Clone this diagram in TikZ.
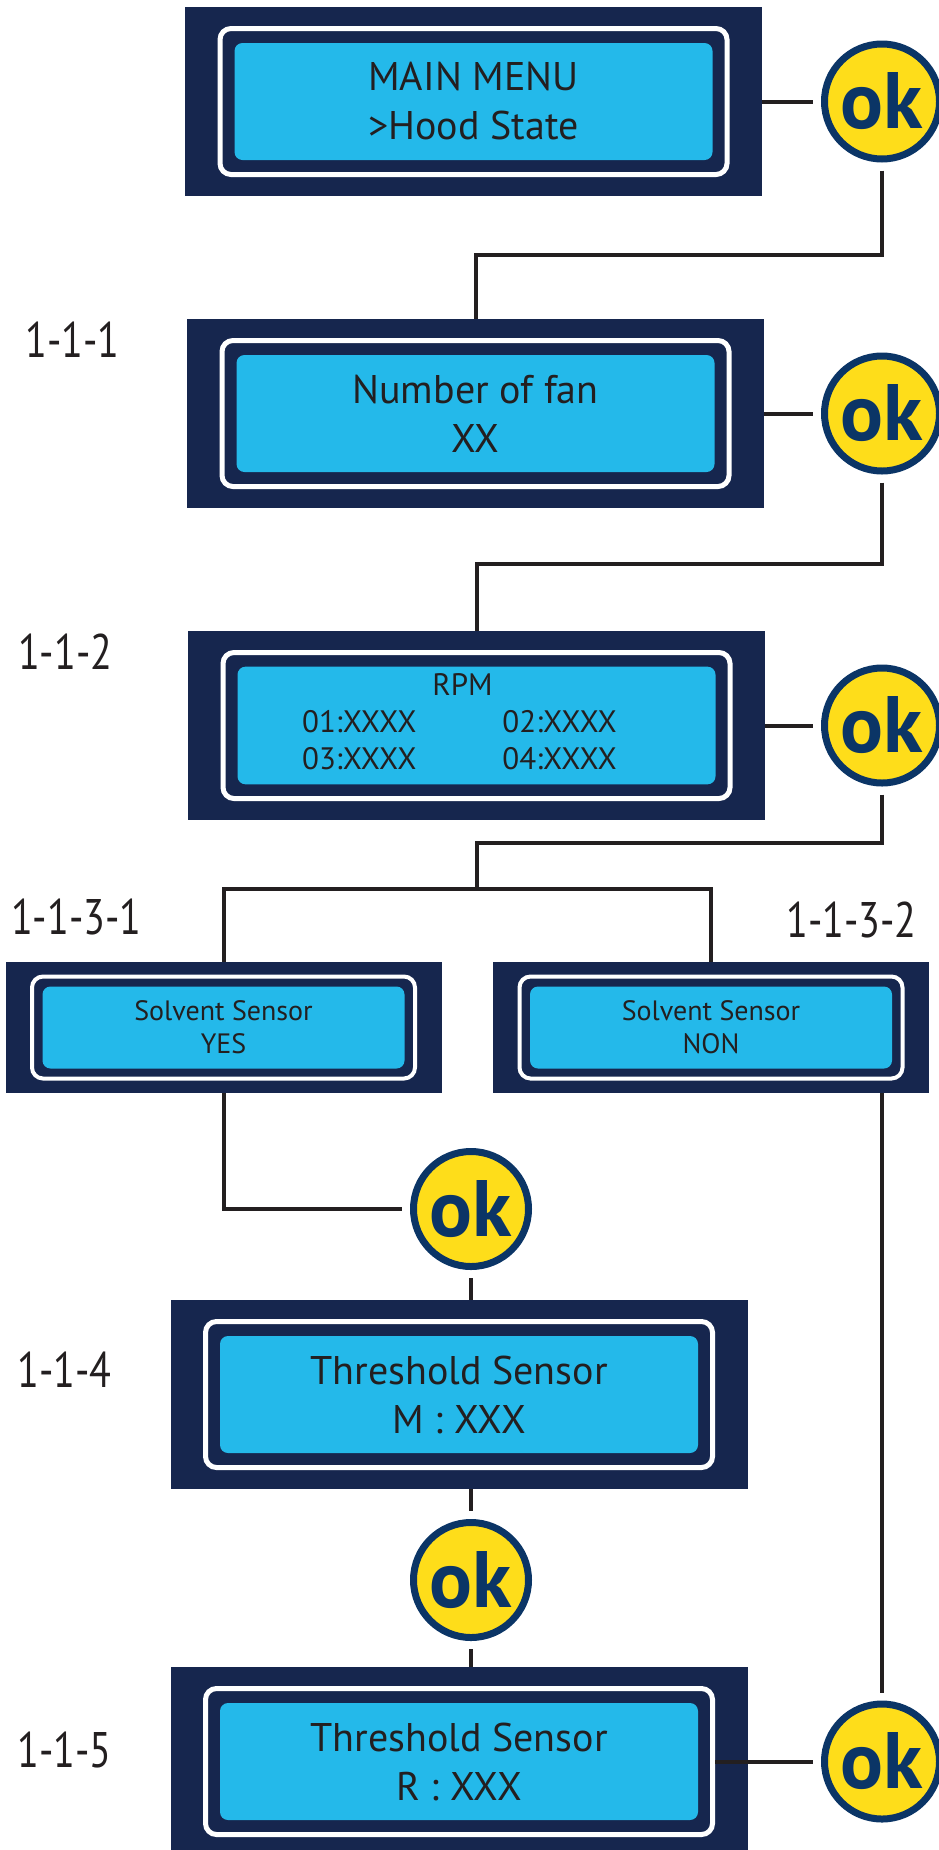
\documentclass[tikz,border=0pt]{standalone}
\usepackage{fontspec}
\usepackage{graphicx}
\setmainfont{PT Sans}
\definecolor{screenblue}{HTML}{16264E}
\definecolor{lcdcyan}{HTML}{24B9EA}
\definecolor{okyellow}{HTML}{FEDD1A}
\definecolor{oknavy}{HTML}{0B3566}
\definecolor{linegray}{HTML}{231F20}
\newcommand\levelname[1]{\scalebox{0.8}[1]{#1}}

\begin{document}
\begin{tikzpicture}[x=1pt,y=-1pt,
  screen/.style={fill=screenblue,inner sep=0,minimum width=577pt,minimum height=189pt},
  frame/.style={draw=white,line width=5pt,rounded corners=11pt,inner sep=0,minimum width=507pt,minimum height=146pt},
  panel/.style={fill=lcdcyan,rounded corners=8pt,minimum width=478pt,minimum height=117pt,align=center,text=linegray,font=\fontsize{40}{49}\selectfont},
  smallscreen/.style={screen,minimum width=436pt,minimum height=131pt},
  smallframe/.style={frame,line width=4pt,minimum width=383pt,minimum height=102pt},
  smallpanel/.style={panel,minimum width=362pt,minimum height=82pt,font=\fontsize{28}{33}\selectfont},
  okbtn/.style={circle,fill=okyellow,draw=oknavy,line width=7pt,minimum size=115pt,inner sep=0,outer sep=11.5pt,text=oknavy,font=\fontsize{80}{80}\bfseries},
  link/.style={draw=linegray,line width=4pt},
  level/.style={anchor=west,inner sep=0,text=linegray,font=\fontsize{50}{60}\selectfont}]
 \useasboundingbox (0,0) rectangle (938,1850);
 % screens
 \node[screen] (s1) at (473.5,101.5) {};
 \node[frame] (f1) at (s1) {};
 \node[panel] (p1) at (s1) {MAIN MENU\\>Hood State};
 \node[screen] (s2) at (475.5,413.5) {};
 \node[frame] (f2) at (s2) {};
 \node[panel] (p2) at (s2) {Number of fan\\XX};
 \node[screen] (s3) at (476.5,725.5) {};
 \node[frame] (f3) at (s3) {};
 \node[panel,font=\fontsize{31}{37}\selectfont] (p3) at (s3) {\begin{tabular}{@{}c@{\hspace{86pt}}c@{\hspace{34pt}}}\multicolumn{2}{c@{\hspace{34pt}}}{RPM}\\01:XXXX&02:XXXX\\03:XXXX&04:XXXX\end{tabular}};
 \node[smallscreen] (s31) at (223.5,1027.5) {};
 \node[smallframe] (f31) at (s31) {};
 \node[smallpanel] (p31) at (s31) {Solvent Sensor\\YES};
 \node[smallscreen] (s32) at (711,1027.5) {};
 \node[smallframe] (f32) at (s32) {};
 \node[smallpanel] (p32) at (s32) {Solvent Sensor\\NON};
 \node[screen] (s4) at (459,1394.5) {};
 \node[frame] (f4) at (s4) {};
 \node[panel] (p4) at (s4) {Threshold Sensor\\M : XXX};
 \node[screen] (s5) at (459,1761.5) {};
 \node[frame] (f5) at (s5) {};
 \node[panel] (p5) at (s5) {Threshold Sensor\\R : XXX};
 % ok buttons
 \node[okbtn] (ok1) at (882,101.5) {ok};
 \node[okbtn] (ok2) at (882,413.5) {ok};
 \node[okbtn] (ok3) at (882,725.5) {ok};
 \node[okbtn] (ok4) at (471,1209) {ok};
 \node[okbtn] (ok5) at (471,1580) {ok};
 \node[okbtn] (ok6) at (882,1761.5) {ok};
 % levels
 \node[level] (l1) at (25,340) {\levelname{1-1-1}};
 \node[level] (l2) at (18,652) {\levelname{1-1-2}};
 \node[level] (l31) at (11,917) {\levelname{1-1-3-1}};
 \node[level] (l32) at (786,920) {\levelname{1-1-3-2}};
 \node[level] (l4) at (17,1370) {\levelname{1-1-4}};
 \node[level] (l5) at (17,1750) {\levelname{1-1-5}};
 % links
 \coordinate (fork) at (476.5,889);
 \draw[link] (s1.east) -- (ok1.west);
 \draw[link] (ok1.south) |- ([yshift=64pt]s2.north) -- (s2.north);
 \draw[link] (s2.east) -- (ok2.west);
 \draw[link] (ok2.south) |- ([yshift=67pt]s3.north) -- (s3.north);
 \draw[link] (s3.east) -- (ok3.west);
 \draw[link] (ok3.south) |- ([yshift=46pt]fork) -- (fork);
 \draw[link] (s31.north) |- (fork) -| (s32.north);
 \draw[link] (s31.south) |- (ok4.west);
 \draw[link] (ok4.south) -- (ok4.south |- s4.north);
 \draw[link] (ok5.north |- s4.south) -- (ok5.north);
 \draw[link] (ok5.south) -- (ok5.south |- s5.north);
 \draw[link] (ok6.north |- s32.south) -- (ok6.north);
 \draw[link] (f5.east) -- (ok6.west);
\end{tikzpicture}
\end{document}
